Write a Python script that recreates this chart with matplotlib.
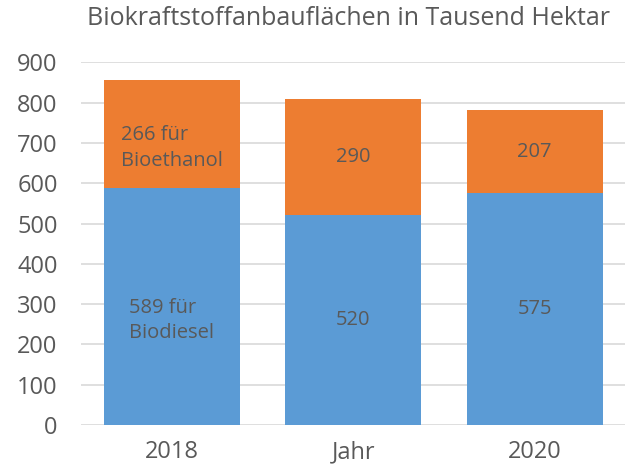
import matplotlib
matplotlib.use("Agg")
import matplotlib.pyplot as plt

plt.rcParams["font.family"] = ["Open Sans", "DejaVu Sans"]

years = ["2018", "Jahr", "2020"]
biodiesel = [589, 520, 575]
bioethanol = [266, 290, 207]
biodiesel_labels = ["589 für\nBiodiesel", "520", "575"]
bioethanol_labels = ["266 für\nBioethanol", "290", "207"]

blue = "#5B9BD5"
orange = "#ED7D31"
grey = "#595959"

fig = plt.figure(figsize=(6.4, 4.75), dpi=100)
ax = fig.add_axes([0.127, 0.105, 0.850, 0.764])

x = range(len(years))
ax.bar(x, biodiesel, width=0.75, color=blue, zorder=2)
ax.bar(x, bioethanol, width=0.75, bottom=biodiesel, color=orange, zorder=2)


def put_label(xpos, ypos, txt):
    # two-line labels sit a bit lower in the original
    dy = -10 if "\n" in txt else 0
    ax.annotate(txt, (xpos, ypos), xytext=(0, dy), textcoords="offset points",
                ha="center", va="center", multialignment="left",
                linespacing=1.35, fontsize=14.5, color=grey, zorder=3)


for i in x:
    put_label(i, biodiesel[i] / 2, biodiesel_labels[i])
    put_label(i, biodiesel[i] + bioethanol[i] / 2, bioethanol_labels[i])

ax.set_xlim(-0.5, 2.5)
ax.set_ylim(0, 900)
ax.set_yticks(range(0, 901, 100))
ax.set_xticks(list(x))
ax.set_xticklabels(years)
ax.tick_params(length=0, labelsize=17, labelcolor=grey)
ax.tick_params(axis="y", pad=17)
ax.tick_params(axis="x", pad=11)
ax.grid(axis="y", color="#D9D9D9", linewidth=1.2, zorder=0)
for s in ax.spines.values():
    s.set_visible(False)

fig.text(0.545, 0.962, "Biokraftstoffanbauflächen in Tausend Hektar", ha="center",
         va="center", fontsize=18, color=grey)

fig.savefig("out.png", dpi=100)
